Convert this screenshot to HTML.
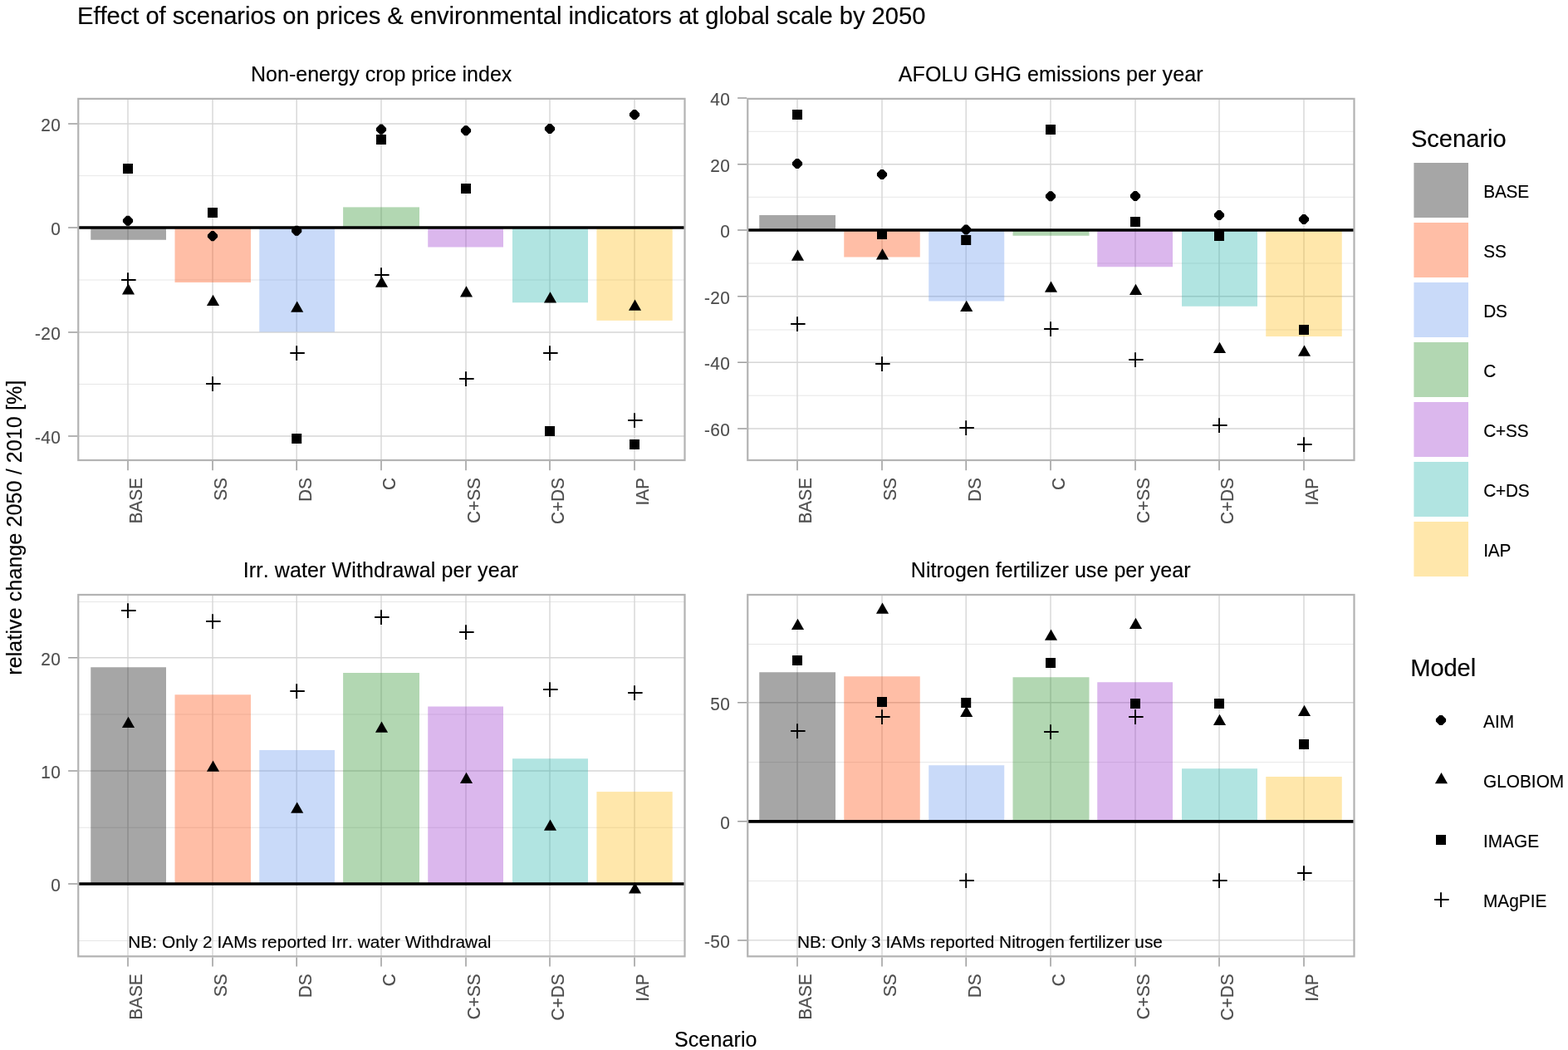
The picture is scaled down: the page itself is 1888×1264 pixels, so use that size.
<!DOCTYPE html>
<html lang="en">
<head>
<meta charset="utf-8">
<title>Effect of scenarios on prices &amp; environmental indicators at global scale by 2050</title>
<style>
html,body{margin:0;padding:0;background:#fff;}
body{width:1888px;height:1264px;overflow:hidden;font-family:"Liberation Sans", sans-serif;}
svg{display:block;position:absolute;left:0;top:0;}
text{white-space:pre;font-variant-ligatures:none;font-kerning:none;font-feature-settings:"kern" 0,"liga" 0;stroke-linejoin:round;}
</style>
</head>
<body>
<svg width="1888" height="1264" viewBox="0 0 1888 1264" font-family='"Liberation Sans", sans-serif'>
<rect width="1888" height="1264" fill="#fff"/>
<text id="title" transform="translate(93 28.6) scale(1 1.0)" font-size="29.17" fill="#000" text-anchor="start" stroke="#000" stroke-width="0.15" letter-spacing="-0.037">Effect of scenarios on prices &amp; environmental indicators at global scale by 2050</text>
<g>
<text id="strip1" transform="translate(459.19 97.5) scale(1 1.0)" font-size="25" fill="#000" text-anchor="middle" stroke="#000" stroke-width="0.15" letter-spacing="0.01">Non-energy crop price index</text>
<path d="M94.25 211.6H824.5M94.25 337H824.5M94.25 462.5H824.5" stroke="#e1e1e1" stroke-width="0.8" fill="none"/>
<path d="M94.25 149H824.5M94.25 274H824.5M94.25 400H824.5M94.25 525H824.5M154 118.9V554M256 118.9V554M357.2 118.9V554M459 118.9V554M561 118.9V554M662 118.9V554M764 118.9V554" stroke="#d6d6d6" stroke-width="1.4" fill="none"/>
<rect x="109.25" y="274" width="90.75" height="14.75" fill="#000000" fill-opacity="0.35"/>
<rect x="210.5" y="274" width="91.5" height="66" fill="#ff4500" fill-opacity="0.35"/>
<rect x="312.25" y="274" width="90.75" height="125.5" fill="#6495ed" fill-opacity="0.35"/>
<rect x="413.1" y="249.4" width="91.9" height="24.6" fill="#228b22" fill-opacity="0.35"/>
<rect x="515.25" y="274" width="90.75" height="23.5" fill="#9932cc" fill-opacity="0.35"/>
<rect x="617" y="274" width="91" height="90.25" fill="#20b2aa" fill-opacity="0.35"/>
<rect x="718.4" y="274" width="91.3" height="111.9" fill="#ffb90f" fill-opacity="0.35"/>
<path d="M94.25 274H824.5" stroke="#000" stroke-width="3.7" fill="none"/>
<g fill="#000">
<path d="M148.5 264.45L152.7 260.25L155.3 260.25L159.5 264.45L159.5 267.05L155.3 271.25L152.7 271.25L148.5 267.05Z" stroke="#000" stroke-width="1.2" stroke-linejoin="round"/>
<path d="M250.5 282.8L254.7 278.6L257.3 278.6L261.5 282.8L261.5 285.4L257.3 289.6L254.7 289.6L250.5 285.4Z" stroke="#000" stroke-width="1.2" stroke-linejoin="round"/>
<path d="M351.7 276.45L355.9 272.25L358.5 272.25L362.7 276.45L362.7 279.05L358.5 283.25L355.9 283.25L351.7 279.05Z" stroke="#000" stroke-width="1.2" stroke-linejoin="round"/>
<path d="M453.5 154.4L457.7 150.2L460.3 150.2L464.5 154.4L464.5 157L460.3 161.2L457.7 161.2L453.5 157Z" stroke="#000" stroke-width="1.2" stroke-linejoin="round"/>
<path d="M555.5 155.95L559.7 151.75L562.3 151.75L566.5 155.95L566.5 158.55L562.3 162.75L559.7 162.75L555.5 158.55Z" stroke="#000" stroke-width="1.2" stroke-linejoin="round"/>
<path d="M656.5 153.7L660.7 149.5L663.3 149.5L667.5 153.7L667.5 156.3L663.3 160.5L660.7 160.5L656.5 156.3Z" stroke="#000" stroke-width="1.2" stroke-linejoin="round"/>
<path d="M758.5 136.7L762.7 132.5L765.3 132.5L769.5 136.7L769.5 139.3L765.3 143.5L762.7 143.5L758.5 139.3Z" stroke="#000" stroke-width="1.2" stroke-linejoin="round"/>
<path d="M154.5 341.32L162.05 354.52L146.95 354.52Z"/>
<path d="M256.5 354.82L264.05 368.02L248.95 368.02Z"/>
<path d="M357.7 362.62L365.25 375.82L350.15 375.82Z"/>
<path d="M459.5 332.62L467.05 345.82L451.95 345.82Z"/>
<path d="M561.5 344.32L569.05 357.52L553.95 357.52Z"/>
<path d="M662.5 351.32L670.05 364.52L654.95 364.52Z"/>
<path d="M764.5 360.62L772.05 373.82L756.95 373.82Z"/>
<rect x="148" y="197" width="12" height="12"/>
<rect x="250" y="250" width="12" height="12"/>
<rect x="351.2" y="522" width="12" height="12"/>
<rect x="453" y="162" width="12" height="12"/>
<rect x="555" y="221" width="12" height="12"/>
<rect x="656" y="513" width="12" height="12"/>
<rect x="758" y="529" width="12" height="12"/>
<path d="M146.1 337H163.6M154 328.3V345.9" fill="none" stroke="#000" stroke-width="1.9"/>
<path d="M248.1 462H265.6M256 453.3V470.9" fill="none" stroke="#000" stroke-width="1.9"/>
<path d="M349.3 425H366.8M357.2 416.3V433.9" fill="none" stroke="#000" stroke-width="1.9"/>
<path d="M451.1 331H468.6M459 322.3V339.9" fill="none" stroke="#000" stroke-width="1.9"/>
<path d="M553.1 456H570.6M561 447.3V464.9" fill="none" stroke="#000" stroke-width="1.9"/>
<path d="M654.1 425H671.6M662 416.3V433.9" fill="none" stroke="#000" stroke-width="1.9"/>
<path d="M756.1 506H773.6M764 497.3V514.9" fill="none" stroke="#000" stroke-width="1.9"/>
</g>
<rect x="94.25" y="118.9" width="730.25" height="435.1" fill="none" stroke="#b3b3b3" stroke-width="2.22"/>
<path d="M82.15 149H93.15M82.15 274H93.15M82.15 400H93.15M82.15 525H93.15M154 555.1V566.2M256 555.1V566.2M357.2 555.1V566.2M459 555.1V566.2M561 555.1V566.2M662 555.1V566.2M764 555.1V566.2" stroke="#9c9c9c" stroke-width="1.5" fill="none"/>
<text id="y1_0" transform="translate(73.4 158.2) scale(1 1.035)" font-size="20.83" fill="#4d4d4d" text-anchor="end" stroke="#4d4d4d" stroke-width="0.15" letter-spacing="0.45">20</text>
<text id="y1_1" transform="translate(73.4 283.2) scale(1 1.035)" font-size="20.83" fill="#4d4d4d" text-anchor="end" stroke="#4d4d4d" stroke-width="0.15" letter-spacing="0.45">0</text>
<text id="y1_2" transform="translate(73.4 409.2) scale(1 1.035)" font-size="20.83" fill="#4d4d4d" text-anchor="end" stroke="#4d4d4d" stroke-width="0.15" letter-spacing="0.45">-20</text>
<text id="y1_3" transform="translate(73.4 534.2) scale(1 1.035)" font-size="20.83" fill="#4d4d4d" text-anchor="end" stroke="#4d4d4d" stroke-width="0.15" letter-spacing="0.45">-40</text>
<text id="x1_0" transform="translate(171.3 575) rotate(-90) scale(1 1.035)" font-size="20.83" fill="#4d4d4d" text-anchor="end" stroke="#4d4d4d" stroke-width="0.15">BASE</text>
<text id="x1_1" transform="translate(273.3 575) rotate(-90) scale(1 1.035)" font-size="20.83" fill="#4d4d4d" text-anchor="end" stroke="#4d4d4d" stroke-width="0.15">SS</text>
<text id="x1_2" transform="translate(374.5 575) rotate(-90) scale(1 1.035)" font-size="20.83" fill="#4d4d4d" text-anchor="end" stroke="#4d4d4d" stroke-width="0.15">DS</text>
<text id="x1_3" transform="translate(476.3 575) rotate(-90) scale(1 1.035)" font-size="20.83" fill="#4d4d4d" text-anchor="end" stroke="#4d4d4d" stroke-width="0.15">C</text>
<text id="x1_4" transform="translate(578.3 575) rotate(-90) scale(1 1.035)" font-size="20.83" fill="#4d4d4d" text-anchor="end" stroke="#4d4d4d" stroke-width="0.15">C+SS</text>
<text id="x1_5" transform="translate(679.3 575) rotate(-90) scale(1 1.035)" font-size="20.83" fill="#4d4d4d" text-anchor="end" stroke="#4d4d4d" stroke-width="0.15">C+DS</text>
<text id="x1_6" transform="translate(781.3 575) rotate(-90) scale(1 1.035)" font-size="20.83" fill="#4d4d4d" text-anchor="end" stroke="#4d4d4d" stroke-width="0.15">IAP</text>
</g>
<g>
<text id="strip2" transform="translate(1265.18 97.5) scale(1 1.0)" font-size="25" fill="#000" text-anchor="middle" stroke="#000" stroke-width="0.15" letter-spacing="0.1">AFOLU GHG emissions per year</text>
<path d="M900.25 158.3H1630.5M900.25 237.3H1630.5M900.25 317H1630.5M900.25 397H1630.5M900.25 476.2H1630.5" stroke="#e1e1e1" stroke-width="0.8" fill="none"/>
<path d="M900.25 197.75H1630.5M900.25 277H1630.5M900.25 356.75H1630.5M900.25 436.2H1630.5M900.25 516H1630.5M960 118.9V554M1062 118.9V554M1163.2 118.9V554M1265 118.9V554M1367 118.9V554M1468 118.9V554M1570 118.9V554" stroke="#d6d6d6" stroke-width="1.4" fill="none"/>
<rect x="914.25" y="259" width="91.75" height="18" fill="#000000" fill-opacity="0.35"/>
<rect x="1016.25" y="277" width="91.5" height="32.5" fill="#ff4500" fill-opacity="0.35"/>
<rect x="1118.25" y="277" width="91" height="85.5" fill="#6495ed" fill-opacity="0.35"/>
<rect x="1219.5" y="277" width="92" height="6.75" fill="#228b22" fill-opacity="0.35"/>
<rect x="1321.25" y="277" width="90.75" height="44.25" fill="#9932cc" fill-opacity="0.35"/>
<rect x="1423" y="277" width="91" height="91.75" fill="#20b2aa" fill-opacity="0.35"/>
<rect x="1524.25" y="277" width="91.5" height="128" fill="#ffb90f" fill-opacity="0.35"/>
<path d="M900.25 277H1630.5" stroke="#000" stroke-width="3.7" fill="none"/>
<g fill="#000">
<path d="M954.5 195.7L958.7 191.5L961.3 191.5L965.5 195.7L965.5 198.3L961.3 202.5L958.7 202.5L954.5 198.3Z" stroke="#000" stroke-width="1.2" stroke-linejoin="round"/>
<path d="M1056.5 208.7L1060.7 204.5L1063.3 204.5L1067.5 208.7L1067.5 211.3L1063.3 215.5L1060.7 215.5L1056.5 211.3Z" stroke="#000" stroke-width="1.2" stroke-linejoin="round"/>
<path d="M1157.7 275.2L1161.9 271L1164.5 271L1168.7 275.2L1168.7 277.8L1164.5 282L1161.9 282L1157.7 277.8Z" stroke="#000" stroke-width="1.2" stroke-linejoin="round"/>
<path d="M1259.5 234.95L1263.7 230.75L1266.3 230.75L1270.5 234.95L1270.5 237.55L1266.3 241.75L1263.7 241.75L1259.5 237.55Z" stroke="#000" stroke-width="1.2" stroke-linejoin="round"/>
<path d="M1361.5 234.7L1365.7 230.5L1368.3 230.5L1372.5 234.7L1372.5 237.3L1368.3 241.5L1365.7 241.5L1361.5 237.3Z" stroke="#000" stroke-width="1.2" stroke-linejoin="round"/>
<path d="M1462.5 257.7L1466.7 253.5L1469.3 253.5L1473.5 257.7L1473.5 260.3L1469.3 264.5L1466.7 264.5L1462.5 260.3Z" stroke="#000" stroke-width="1.2" stroke-linejoin="round"/>
<path d="M1564.5 262.7L1568.7 258.5L1571.3 258.5L1575.5 262.7L1575.5 265.3L1571.3 269.5L1568.7 269.5L1564.5 265.3Z" stroke="#000" stroke-width="1.2" stroke-linejoin="round"/>
<path d="M960.5 300.62L968.05 313.82L952.95 313.82Z"/>
<path d="M1062.5 299.32L1070.05 312.52L1054.95 312.52Z"/>
<path d="M1163.7 361.82L1171.25 375.02L1156.15 375.02Z"/>
<path d="M1265.5 338.62L1273.05 351.82L1257.95 351.82Z"/>
<path d="M1367.5 341.82L1375.05 355.02L1359.95 355.02Z"/>
<path d="M1468.5 411.82L1476.05 425.02L1460.95 425.02Z"/>
<path d="M1570.5 415.62L1578.05 428.82L1562.95 428.82Z"/>
<rect x="954" y="132" width="12" height="12"/>
<rect x="1056" y="276" width="12" height="12"/>
<rect x="1157.2" y="283" width="12" height="12"/>
<rect x="1259" y="150" width="12" height="12"/>
<rect x="1361" y="261" width="12" height="12"/>
<rect x="1462" y="278" width="12" height="12"/>
<rect x="1564" y="391" width="12" height="12"/>
<path d="M952.1 390H969.6M960 381.3V398.9" fill="none" stroke="#000" stroke-width="1.9"/>
<path d="M1054.1 438H1071.6M1062 429.3V446.9" fill="none" stroke="#000" stroke-width="1.9"/>
<path d="M1155.3 515H1172.8M1163.2 506.3V523.9" fill="none" stroke="#000" stroke-width="1.9"/>
<path d="M1257.1 396H1274.6M1265 387.3V404.9" fill="none" stroke="#000" stroke-width="1.9"/>
<path d="M1359.1 433H1376.6M1367 424.3V441.9" fill="none" stroke="#000" stroke-width="1.9"/>
<path d="M1460.1 512H1477.6M1468 503.3V520.9" fill="none" stroke="#000" stroke-width="1.9"/>
<path d="M1562.1 535H1579.6M1570 526.3V543.9" fill="none" stroke="#000" stroke-width="1.9"/>
</g>
<rect x="900.25" y="118.9" width="730.25" height="435.1" fill="none" stroke="#b3b3b3" stroke-width="2.22"/>
<path d="M888.15 118H899.15M888.15 197.75H899.15M888.15 277H899.15M888.15 356.75H899.15M888.15 436.2H899.15M888.15 516H899.15M960 555.1V566.2M1062 555.1V566.2M1163.2 555.1V566.2M1265 555.1V566.2M1367 555.1V566.2M1468 555.1V566.2M1570 555.1V566.2" stroke="#9c9c9c" stroke-width="1.5" fill="none"/>
<text id="y2_0" transform="translate(879.4 127.2) scale(1 1.035)" font-size="20.83" fill="#4d4d4d" text-anchor="end" stroke="#4d4d4d" stroke-width="0.15" letter-spacing="0.45">40</text>
<text id="y2_1" transform="translate(879.4 206.95) scale(1 1.035)" font-size="20.83" fill="#4d4d4d" text-anchor="end" stroke="#4d4d4d" stroke-width="0.15" letter-spacing="0.45">20</text>
<text id="y2_2" transform="translate(879.4 286.2) scale(1 1.035)" font-size="20.83" fill="#4d4d4d" text-anchor="end" stroke="#4d4d4d" stroke-width="0.15" letter-spacing="0.45">0</text>
<text id="y2_3" transform="translate(879.4 365.95) scale(1 1.035)" font-size="20.83" fill="#4d4d4d" text-anchor="end" stroke="#4d4d4d" stroke-width="0.15" letter-spacing="0.45">-20</text>
<text id="y2_4" transform="translate(879.4 445.4) scale(1 1.035)" font-size="20.83" fill="#4d4d4d" text-anchor="end" stroke="#4d4d4d" stroke-width="0.15" letter-spacing="0.45">-40</text>
<text id="y2_5" transform="translate(879.4 525.2) scale(1 1.035)" font-size="20.83" fill="#4d4d4d" text-anchor="end" stroke="#4d4d4d" stroke-width="0.15" letter-spacing="0.45">-60</text>
<text id="x2_0" transform="translate(977.3 575) rotate(-90) scale(1 1.035)" font-size="20.83" fill="#4d4d4d" text-anchor="end" stroke="#4d4d4d" stroke-width="0.15">BASE</text>
<text id="x2_1" transform="translate(1079.3 575) rotate(-90) scale(1 1.035)" font-size="20.83" fill="#4d4d4d" text-anchor="end" stroke="#4d4d4d" stroke-width="0.15">SS</text>
<text id="x2_2" transform="translate(1180.5 575) rotate(-90) scale(1 1.035)" font-size="20.83" fill="#4d4d4d" text-anchor="end" stroke="#4d4d4d" stroke-width="0.15">DS</text>
<text id="x2_3" transform="translate(1282.3 575) rotate(-90) scale(1 1.035)" font-size="20.83" fill="#4d4d4d" text-anchor="end" stroke="#4d4d4d" stroke-width="0.15">C</text>
<text id="x2_4" transform="translate(1384.3 575) rotate(-90) scale(1 1.035)" font-size="20.83" fill="#4d4d4d" text-anchor="end" stroke="#4d4d4d" stroke-width="0.15">C+SS</text>
<text id="x2_5" transform="translate(1485.3 575) rotate(-90) scale(1 1.035)" font-size="20.83" fill="#4d4d4d" text-anchor="end" stroke="#4d4d4d" stroke-width="0.15">C+DS</text>
<text id="x2_6" transform="translate(1587.3 575) rotate(-90) scale(1 1.035)" font-size="20.83" fill="#4d4d4d" text-anchor="end" stroke="#4d4d4d" stroke-width="0.15">IAP</text>
</g>
<g>
<text id="strip3" transform="translate(458.44 694.6) scale(1 1.0)" font-size="25" fill="#000" text-anchor="middle" stroke="#000" stroke-width="0.15" letter-spacing="0.121">Irr. water Withdrawal per year</text>
<path d="M94.25 724.5H824.5M94.25 860H824.5M94.25 996.25H824.5M94.25 1132.5H824.5" stroke="#e1e1e1" stroke-width="0.8" fill="none"/>
<path d="M94.25 791.75H824.5M94.25 928H824.5M94.25 1064H824.5M154 716V1151.3M256 716V1151.3M357.2 716V1151.3M459 716V1151.3M561 716V1151.3M662 716V1151.3M764 716V1151.3" stroke="#d6d6d6" stroke-width="1.4" fill="none"/>
<rect x="109.25" y="803.25" width="90.75" height="260.75" fill="#000000" fill-opacity="0.35"/>
<rect x="210.5" y="836.25" width="91.5" height="227.75" fill="#ff4500" fill-opacity="0.35"/>
<rect x="312.25" y="903" width="90.75" height="161" fill="#6495ed" fill-opacity="0.35"/>
<rect x="413.1" y="810" width="91.9" height="254" fill="#228b22" fill-opacity="0.35"/>
<rect x="515.25" y="850.5" width="90.75" height="213.5" fill="#9932cc" fill-opacity="0.35"/>
<rect x="617" y="913.25" width="91" height="150.75" fill="#20b2aa" fill-opacity="0.35"/>
<rect x="718.4" y="953.1" width="91.3" height="110.9" fill="#ffb90f" fill-opacity="0.35"/>
<path d="M94.25 1064H824.5" stroke="#000" stroke-width="3.7" fill="none"/>
<text id="note3" transform="translate(154.22 1140.9) scale(1 1.0)" font-size="20.83" fill="#000" text-anchor="start" stroke="#000" stroke-width="0.15" letter-spacing="0.071">NB: Only 2 IAMs reported Irr. water Withdrawal</text>
<g fill="#000">
<path d="M154.5 862.82L162.05 876.02L146.95 876.02Z"/>
<path d="M256.5 915.62L264.05 928.82L248.95 928.82Z"/>
<path d="M357.7 965.62L365.25 978.82L350.15 978.82Z"/>
<path d="M459.5 868.52L467.05 881.72L451.95 881.72Z"/>
<path d="M561.5 929.82L569.05 943.02L553.95 943.02Z"/>
<path d="M662.5 986.62L670.05 999.82L654.95 999.82Z"/>
<path d="M764.5 1062.32L772.05 1075.52L756.95 1075.52Z"/>
<path d="M146.1 735H163.6M154 726.3V743.9" fill="none" stroke="#000" stroke-width="1.9"/>
<path d="M248.1 748H265.6M256 739.3V756.9" fill="none" stroke="#000" stroke-width="1.9"/>
<path d="M349.3 832H366.8M357.2 823.3V840.9" fill="none" stroke="#000" stroke-width="1.9"/>
<path d="M451.1 743H468.6M459 734.3V751.9" fill="none" stroke="#000" stroke-width="1.9"/>
<path d="M553.1 761H570.6M561 752.3V769.9" fill="none" stroke="#000" stroke-width="1.9"/>
<path d="M654.1 830H671.6M662 821.3V838.9" fill="none" stroke="#000" stroke-width="1.9"/>
<path d="M756.1 834H773.6M764 825.3V842.9" fill="none" stroke="#000" stroke-width="1.9"/>
</g>
<rect x="94.25" y="716" width="730.25" height="435.3" fill="none" stroke="#b3b3b3" stroke-width="2.22"/>
<path d="M82.15 791.75H93.15M82.15 928H93.15M82.15 1064H93.15M154 1152.4V1163.5M256 1152.4V1163.5M357.2 1152.4V1163.5M459 1152.4V1163.5M561 1152.4V1163.5M662 1152.4V1163.5M764 1152.4V1163.5" stroke="#9c9c9c" stroke-width="1.5" fill="none"/>
<text id="y3_0" transform="translate(73.4 800.95) scale(1 1.035)" font-size="20.83" fill="#4d4d4d" text-anchor="end" stroke="#4d4d4d" stroke-width="0.15" letter-spacing="0.45">20</text>
<text id="y3_1" transform="translate(73.4 937.2) scale(1 1.035)" font-size="20.83" fill="#4d4d4d" text-anchor="end" stroke="#4d4d4d" stroke-width="0.15" letter-spacing="0.45">10</text>
<text id="y3_2" transform="translate(73.4 1073.2) scale(1 1.035)" font-size="20.83" fill="#4d4d4d" text-anchor="end" stroke="#4d4d4d" stroke-width="0.15" letter-spacing="0.45">0</text>
<text id="x3_0" transform="translate(171.3 1172.3) rotate(-90) scale(1 1.035)" font-size="20.83" fill="#4d4d4d" text-anchor="end" stroke="#4d4d4d" stroke-width="0.15">BASE</text>
<text id="x3_1" transform="translate(273.3 1172.3) rotate(-90) scale(1 1.035)" font-size="20.83" fill="#4d4d4d" text-anchor="end" stroke="#4d4d4d" stroke-width="0.15">SS</text>
<text id="x3_2" transform="translate(374.5 1172.3) rotate(-90) scale(1 1.035)" font-size="20.83" fill="#4d4d4d" text-anchor="end" stroke="#4d4d4d" stroke-width="0.15">DS</text>
<text id="x3_3" transform="translate(476.3 1172.3) rotate(-90) scale(1 1.035)" font-size="20.83" fill="#4d4d4d" text-anchor="end" stroke="#4d4d4d" stroke-width="0.15">C</text>
<text id="x3_4" transform="translate(578.3 1172.3) rotate(-90) scale(1 1.035)" font-size="20.83" fill="#4d4d4d" text-anchor="end" stroke="#4d4d4d" stroke-width="0.15">C+SS</text>
<text id="x3_5" transform="translate(679.3 1172.3) rotate(-90) scale(1 1.035)" font-size="20.83" fill="#4d4d4d" text-anchor="end" stroke="#4d4d4d" stroke-width="0.15">C+DS</text>
<text id="x3_6" transform="translate(781.3 1172.3) rotate(-90) scale(1 1.035)" font-size="20.83" fill="#4d4d4d" text-anchor="end" stroke="#4d4d4d" stroke-width="0.15">IAP</text>
</g>
<g>
<text id="strip4" transform="translate(1265.2 694.6) scale(1 1.0)" font-size="25" fill="#000" text-anchor="middle" stroke="#000" stroke-width="0.15" letter-spacing="0.06">Nitrogen fertilizer use per year</text>
<path d="M900.25 775.5H1630.5M900.25 917.6H1630.5M900.25 1060.5H1630.5" stroke="#e1e1e1" stroke-width="0.8" fill="none"/>
<path d="M900.25 845.75H1630.5M900.25 988.8H1630.5M900.25 1131.9H1630.5M960 716V1151.3M1062 716V1151.3M1163.2 716V1151.3M1265 716V1151.3M1367 716V1151.3M1468 716V1151.3M1570 716V1151.3" stroke="#d6d6d6" stroke-width="1.4" fill="none"/>
<rect x="914.25" y="809.25" width="91.75" height="179.55" fill="#000000" fill-opacity="0.35"/>
<rect x="1016.25" y="814.25" width="91.5" height="174.55" fill="#ff4500" fill-opacity="0.35"/>
<rect x="1118.25" y="921.25" width="91" height="67.55" fill="#6495ed" fill-opacity="0.35"/>
<rect x="1219.5" y="815.25" width="92" height="173.55" fill="#228b22" fill-opacity="0.35"/>
<rect x="1321.25" y="821.25" width="90.75" height="167.55" fill="#9932cc" fill-opacity="0.35"/>
<rect x="1423" y="925.25" width="91" height="63.55" fill="#20b2aa" fill-opacity="0.35"/>
<rect x="1524.25" y="935" width="91.5" height="53.8" fill="#ffb90f" fill-opacity="0.35"/>
<path d="M900.25 988.8H1630.5" stroke="#000" stroke-width="3.7" fill="none"/>
<text id="note4" transform="translate(959.98 1140.9) scale(1 1.0)" font-size="20.83" fill="#000" text-anchor="start" stroke="#000" stroke-width="0.15" letter-spacing="0.001">NB: Only 3 IAMs reported Nitrogen fertilizer use</text>
<g fill="#000">
<path d="M960.5 744.82L968.05 758.02L952.95 758.02Z"/>
<path d="M1062.5 725.62L1070.05 738.82L1054.95 738.82Z"/>
<path d="M1163.7 849.82L1171.25 863.02L1156.15 863.02Z"/>
<path d="M1265.5 757.62L1273.05 770.82L1257.95 770.82Z"/>
<path d="M1367.5 743.82L1375.05 757.02L1359.95 757.02Z"/>
<path d="M1468.5 859.82L1476.05 873.02L1460.95 873.02Z"/>
<path d="M1570.5 848.82L1578.05 862.02L1562.95 862.02Z"/>
<rect x="954" y="789" width="12" height="12"/>
<rect x="1056" y="839" width="12" height="12"/>
<rect x="1157.2" y="840" width="12" height="12"/>
<rect x="1259" y="792" width="12" height="12"/>
<rect x="1361" y="841" width="12" height="12"/>
<rect x="1462" y="841" width="12" height="12"/>
<rect x="1564" y="890" width="12" height="12"/>
<path d="M952.1 880H969.6M960 871.3V888.9" fill="none" stroke="#000" stroke-width="1.9"/>
<path d="M1054.1 863H1071.6M1062 854.3V871.9" fill="none" stroke="#000" stroke-width="1.9"/>
<path d="M1155.3 1060H1172.8M1163.2 1051.3V1068.9" fill="none" stroke="#000" stroke-width="1.9"/>
<path d="M1257.1 881H1274.6M1265 872.3V889.9" fill="none" stroke="#000" stroke-width="1.9"/>
<path d="M1359.1 863H1376.6M1367 854.3V871.9" fill="none" stroke="#000" stroke-width="1.9"/>
<path d="M1460.1 1060H1477.6M1468 1051.3V1068.9" fill="none" stroke="#000" stroke-width="1.9"/>
<path d="M1562.1 1051H1579.6M1570 1042.3V1059.9" fill="none" stroke="#000" stroke-width="1.9"/>
</g>
<rect x="900.25" y="716" width="730.25" height="435.3" fill="none" stroke="#b3b3b3" stroke-width="2.22"/>
<path d="M888.15 845.75H899.15M888.15 988.8H899.15M888.15 1131.9H899.15M960 1152.4V1163.5M1062 1152.4V1163.5M1163.2 1152.4V1163.5M1265 1152.4V1163.5M1367 1152.4V1163.5M1468 1152.4V1163.5M1570 1152.4V1163.5" stroke="#9c9c9c" stroke-width="1.5" fill="none"/>
<text id="y4_0" transform="translate(879.4 854.95) scale(1 1.035)" font-size="20.83" fill="#4d4d4d" text-anchor="end" stroke="#4d4d4d" stroke-width="0.15" letter-spacing="0.45">50</text>
<text id="y4_1" transform="translate(879.4 998) scale(1 1.035)" font-size="20.83" fill="#4d4d4d" text-anchor="end" stroke="#4d4d4d" stroke-width="0.15" letter-spacing="0.45">0</text>
<text id="y4_2" transform="translate(879.4 1141.1) scale(1 1.035)" font-size="20.83" fill="#4d4d4d" text-anchor="end" stroke="#4d4d4d" stroke-width="0.15" letter-spacing="0.45">-50</text>
<text id="x4_0" transform="translate(977.3 1172.3) rotate(-90) scale(1 1.035)" font-size="20.83" fill="#4d4d4d" text-anchor="end" stroke="#4d4d4d" stroke-width="0.15">BASE</text>
<text id="x4_1" transform="translate(1079.3 1172.3) rotate(-90) scale(1 1.035)" font-size="20.83" fill="#4d4d4d" text-anchor="end" stroke="#4d4d4d" stroke-width="0.15">SS</text>
<text id="x4_2" transform="translate(1180.5 1172.3) rotate(-90) scale(1 1.035)" font-size="20.83" fill="#4d4d4d" text-anchor="end" stroke="#4d4d4d" stroke-width="0.15">DS</text>
<text id="x4_3" transform="translate(1282.3 1172.3) rotate(-90) scale(1 1.035)" font-size="20.83" fill="#4d4d4d" text-anchor="end" stroke="#4d4d4d" stroke-width="0.15">C</text>
<text id="x4_4" transform="translate(1384.3 1172.3) rotate(-90) scale(1 1.035)" font-size="20.83" fill="#4d4d4d" text-anchor="end" stroke="#4d4d4d" stroke-width="0.15">C+SS</text>
<text id="x4_5" transform="translate(1485.3 1172.3) rotate(-90) scale(1 1.035)" font-size="20.83" fill="#4d4d4d" text-anchor="end" stroke="#4d4d4d" stroke-width="0.15">C+DS</text>
<text id="x4_6" transform="translate(1587.3 1172.3) rotate(-90) scale(1 1.035)" font-size="20.83" fill="#4d4d4d" text-anchor="end" stroke="#4d4d4d" stroke-width="0.15">IAP</text>
</g>
<text id="ytitle" transform="translate(25.7 635.2) rotate(-90) scale(1 1.0)" font-size="25" fill="#000" text-anchor="middle" stroke="#000" stroke-width="0.15" letter-spacing="0.113">relative change 2050 / 2010 [%]</text>
<text id="xtitle" transform="translate(861.78 1260) scale(1 1.0)" font-size="25" fill="#000" text-anchor="middle" stroke="#000" stroke-width="0.15" letter-spacing="0.129">Scenario</text>
<g>
<text id="leg1" transform="translate(1698.92 176.5) scale(1 1.0)" font-size="29.17" fill="#000" text-anchor="start" stroke="#000" stroke-width="0.15" letter-spacing="-0.041">Scenario</text>
<rect x="1702.4" y="196" width="65.6" height="66" fill="#000000" fill-opacity="0.35"/>
<text id="ls0" transform="translate(1786.3 238.3) scale(1 1.035)" font-size="20.83" fill="#000" text-anchor="start" stroke="#000" stroke-width="0.15" letter-spacing="-0.25">BASE</text>
<rect x="1702.4" y="268" width="65.6" height="66" fill="#ff4500" fill-opacity="0.35"/>
<text id="ls1" transform="translate(1786.3 310.3) scale(1 1.035)" font-size="20.83" fill="#000" text-anchor="start" stroke="#000" stroke-width="0.15" letter-spacing="-0.25">SS</text>
<rect x="1702.4" y="340" width="65.6" height="66" fill="#6495ed" fill-opacity="0.35"/>
<text id="ls2" transform="translate(1786.3 382.3) scale(1 1.035)" font-size="20.83" fill="#000" text-anchor="start" stroke="#000" stroke-width="0.15" letter-spacing="-0.25">DS</text>
<rect x="1702.4" y="412" width="65.6" height="66" fill="#228b22" fill-opacity="0.35"/>
<text id="ls3" transform="translate(1786.3 454.3) scale(1 1.035)" font-size="20.83" fill="#000" text-anchor="start" stroke="#000" stroke-width="0.15" letter-spacing="-0.25">C</text>
<rect x="1702.4" y="484" width="65.6" height="66" fill="#9932cc" fill-opacity="0.35"/>
<text id="ls4" transform="translate(1786.3 526.3) scale(1 1.035)" font-size="20.83" fill="#000" text-anchor="start" stroke="#000" stroke-width="0.15" letter-spacing="-0.25">C+SS</text>
<rect x="1702.4" y="556" width="65.6" height="66" fill="#20b2aa" fill-opacity="0.35"/>
<text id="ls5" transform="translate(1786.3 598.3) scale(1 1.035)" font-size="20.83" fill="#000" text-anchor="start" stroke="#000" stroke-width="0.15" letter-spacing="-0.25">C+DS</text>
<rect x="1702.4" y="628" width="65.6" height="66" fill="#ffb90f" fill-opacity="0.35"/>
<text id="ls6" transform="translate(1786.3 670.3) scale(1 1.035)" font-size="20.83" fill="#000" text-anchor="start" stroke="#000" stroke-width="0.15" letter-spacing="-0.25">IAP</text>
<text id="leg2" transform="translate(1698.3 814.1) scale(1 1.0)" font-size="29.17" fill="#000" text-anchor="start" stroke="#000" stroke-width="0.15" letter-spacing="-0.152">Model</text>
<g fill="#000">
<path d="M1729.5 865.7L1733.7 861.5L1736.3 861.5L1740.5 865.7L1740.5 868.3L1736.3 872.5L1733.7 872.5L1729.5 868.3Z" stroke="#000" stroke-width="1.2" stroke-linejoin="round"/>
<text id="lm0" transform="translate(1786 875.9) scale(1 1.035)" font-size="20.83" fill="#000" text-anchor="start" stroke="#000" stroke-width="0.15">AIM</text>
<path d="M1735.5 930.02L1743.05 943.22L1727.95 943.22Z"/>
<text id="lm1" transform="translate(1786 947.9) scale(1 1.035)" font-size="20.83" fill="#000" text-anchor="start" stroke="#000" stroke-width="0.15">GLOBIOM</text>
<rect x="1729" y="1005" width="12" height="12"/>
<text id="lm2" transform="translate(1786 1019.9) scale(1 1.035)" font-size="20.83" fill="#000" text-anchor="start" stroke="#000" stroke-width="0.15">IMAGE</text>
<path d="M1727.1 1083H1744.6M1735 1074.3V1091.9" fill="none" stroke="#000" stroke-width="1.9"/>
<text id="lm3" transform="translate(1786 1091.9) scale(1 1.035)" font-size="20.83" fill="#000" text-anchor="start" stroke="#000" stroke-width="0.15">MAgPIE</text>
</g>
</g>
</svg>
</body>
</html>
